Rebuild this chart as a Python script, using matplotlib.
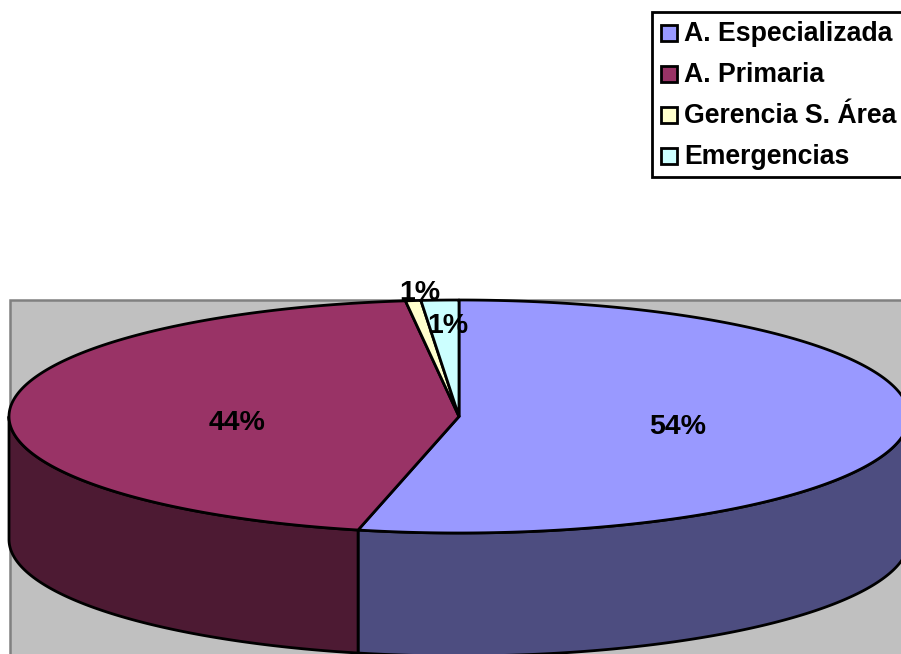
import numpy as np
import matplotlib
matplotlib.use('Agg')
import matplotlib.pyplot as plt
from matplotlib.patches import Polygon, Rectangle

plt.rcParams['font.family'] = ['Liberation Sans', 'DejaVu Sans']

# data
labels = ['A. Especializada', 'A. Primaria', 'Gerencia S. Área', 'Emergencias']
values = [53.6, 44.5, 0.55, 1.35]
colors = ['#9999FF', '#993366', '#FFFFCC', '#CCFFFF']
wall_colors = ['#4D4D80', '#4D1A33', '#80805F', '#668080']

# layout, in pixels of the 901x654 picture
cx, cy = 459, 416.5
rx, ry = 450, 116.5
depth = 123
label_pos = [(678, 427), (237, 423), (420, 293), (448, 326)]
legend_y = [33, 74, 115, 156]


def rim(t):
    # t is degrees clockwise from 12 o'clock
    r = np.radians(t)
    return cx + rx * np.sin(r), cy - ry * np.cos(r)


fig = plt.figure(figsize=(9.01, 6.54), dpi=100)
ax = fig.add_axes([0, 0, 1, 1])
ax.set_xlim(0, 901)
ax.set_ylim(654, 0)
ax.axis('off')

# grey plot area
ax.add_patch(Rectangle((9.5, 300), 900, 360, fc='#C0C0C0', ec='#808080', lw=1.8))

edges = np.cumsum([0] + values) * 3.6

# side walls, only the front half of the rim shows
for i in range(len(values)):
    a = max(edges[i], 90)
    b = min(edges[i + 1], 270)
    if a >= b:
        continue
    t = np.linspace(a, b, 200)
    x, y = rim(t)
    pts = np.column_stack([np.r_[x, x[::-1]], np.r_[y, y[::-1] + depth]])
    ax.add_patch(Polygon(pts, fc=wall_colors[i], ec='black', lw=2, joinstyle='round'))

# top face
for i in range(len(values)):
    t = np.linspace(edges[i], edges[i + 1], 300)
    x, y = rim(t)
    pts = np.column_stack([np.r_[cx, x], np.r_[cy, y]])
    ax.add_patch(Polygon(pts, fc=colors[i], ec='black', lw=2, joinstyle='round'))

# percent labels
for v, (px, py) in zip(values, label_pos):
    ax.text(px, py, f'{max(round(v), 1)}%', fontsize=20.5, fontweight='bold',
            ha='center', va='center', color='black', zorder=5)

# legend
ax.add_patch(Rectangle((652, 12), 260, 165, fc='white', ec='black', lw=2, zorder=6))
for name, col, ly in zip(labels, colors, legend_y):
    ax.add_patch(Rectangle((661, ly - 8), 16, 16, fc=col, ec='black', lw=2, zorder=7))
    ax.text(684, ly + 1, name, fontsize=19.2, fontweight='bold', ha='left', va='center',
            color='black', zorder=7)

fig.savefig('out.png', dpi=100)
